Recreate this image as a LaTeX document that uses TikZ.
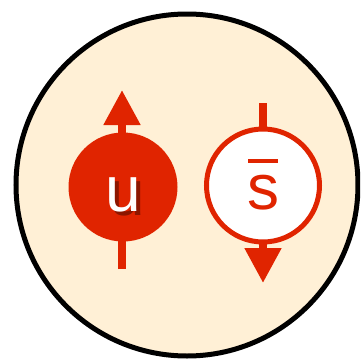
\documentclass[tikz,border=0pt]{standalone}
\usepackage{fontspec}
\setmainfont{Liberation Sans}
\usepackage{xcolor}
\usetikzlibrary{arrows.meta,positioning}

\definecolor{quarkred}{RGB}{224,36,0}
\definecolor{cream}{RGB}{255,240,214}
\definecolor{shadowred}{RGB}{140,22,0}

\begin{document}
\begin{tikzpicture}[
    x=1pt, y=-1pt,
    meson/.style={circle, draw=black, line width=5pt, fill=cream, minimum size=342pt, inner sep=0pt},
    quark/.style={circle, inner sep=0pt, font=\fontsize{64}{64}\selectfont, text height=48pt, text depth=0pt},
    spin/.style={line width=8pt, draw=quarkred, -{Triangle[length=35pt,width=35pt]}}
]
    \useasboundingbox (0,0) rectangle (360,362);
    \clip (0,0) rectangle (360,362);

    \node[meson] (pion) at (187,185) {};

    % spin arrows, behind the quarks
    \coordinate (utail) at (122,269);
    \coordinate (uhead) at (122,90);
    \coordinate (stail) at (263,103);
    \coordinate (shead) at (263,283);
    \draw[spin] (utail) -- (uhead);
    \draw[spin] (stail) -- (shead);

    \node[quark, fill=quarkred, minimum size=109pt, text=white] (u) at (123,187)
        {\rlap{\hspace{4pt}\raisebox{-4pt}{\color{shadowred}u}}u};
    \node[quark, fill=white, draw=quarkred, line width=5pt, minimum size=113pt, text=quarkred] (sbar) at (263,185.5)
        {\rlap{\hspace{1pt}\rule[47pt]{30pt}{4pt}}s};
\end{tikzpicture}
\end{document}
